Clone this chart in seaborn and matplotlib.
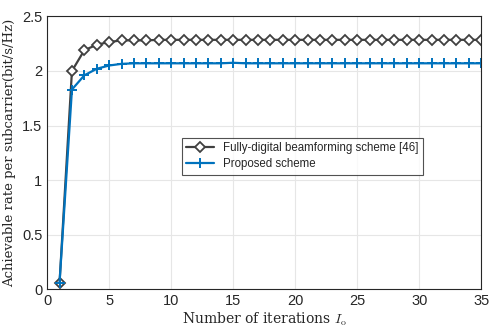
import numpy as np
import pandas as pd
import matplotlib
matplotlib.use("Agg")
import matplotlib.pyplot as plt
import seaborn as sns

# iterations and achievable rates
iterations = list(range(1, 36))
fully_digital = [0.06, 2.00, 2.19, 2.24, 2.265, 2.28, 2.28, 2.28, 2.285, 2.285,
                 2.285, 2.285, 2.285, 2.285, 2.285, 2.285, 2.285, 2.285, 2.285, 2.285,
                 2.285, 2.285, 2.285, 2.285, 2.285, 2.285, 2.285, 2.285, 2.285, 2.285,
                 2.285, 2.285, 2.285, 2.285, 2.285]
proposed = [0.06, 1.83, 1.96, 2.02, 2.05, 2.065, 2.07, 2.07, 2.07, 2.07,
            2.07, 2.07, 2.07, 2.07, 2.075, 2.07, 2.07, 2.07, 2.07, 2.07,
            2.07, 2.07, 2.07, 2.07, 2.07, 2.07, 2.07, 2.07, 2.07, 2.07,
            2.07, 2.07, 2.07, 2.07, 2.07]
labels = ["Fully-digital beamforming scheme [46]", "Proposed scheme"]

sns.set_theme(style="whitegrid")
plt.rcParams["font.family"] = ["Liberation Sans", "DejaVu Sans"]
plt.rcParams["mathtext.fontset"] = "cm"

fig, ax = plt.subplots(figsize=(4.91, 3.27), dpi=100)
sns.lineplot(x=iterations, y=fully_digital, color="#404040", marker="D",
             markerfacecolor="white", markeredgecolor="#404040", markeredgewidth=1.3,
             markersize=4.8, linewidth=1.6, label=labels[0], ax=ax)
sns.lineplot(x=iterations, y=proposed, color="#0072BD", marker="+",
             markeredgecolor="#0072BD", markeredgewidth=1.4, markersize=6.5,
             linewidth=1.6, label=labels[1], ax=ax)

ax.set_xlim(0, 35)
ax.set_ylim(0, 2.5)
ax.set_xticks(range(0, 36, 5))
ax.set_yticks([0, 0.5, 1, 1.5, 2, 2.5])
ax.set_yticklabels(["0", "0.5", "1", "1.5", "2", "2.5"])
ax.tick_params(labelsize=10.5, colors="#262626", length=3, direction="in")
ax.set_xlabel(r"Number of iterations $I_\mathrm{o}$", fontfamily="DejaVu Serif",
              fontsize=10, color="#262626", labelpad=2)
ax.set_ylabel("Achievable rate per subcarrier(bit/s/Hz)", fontfamily="DejaVu Serif",
              fontsize=9.5, color="#262626", labelpad=4)
ax.grid(color="#e6e6e6", linewidth=0.8)
for s in ax.spines.values():
    s.set_color("#262626")
    s.set_linewidth(0.8)

leg = ax.legend(loc="upper left", bbox_to_anchor=(0.31, 0.555), fontsize=8.3,
                frameon=True, fancybox=False, edgecolor="#262626",
                handlelength=2.4, borderpad=0.4, labelspacing=0.3, borderaxespad=0)
leg.get_frame().set_linewidth(0.8)

fig.subplots_adjust(left=0.096, right=0.98, top=0.95, bottom=0.115)
fig.savefig("out.png", dpi=100)
